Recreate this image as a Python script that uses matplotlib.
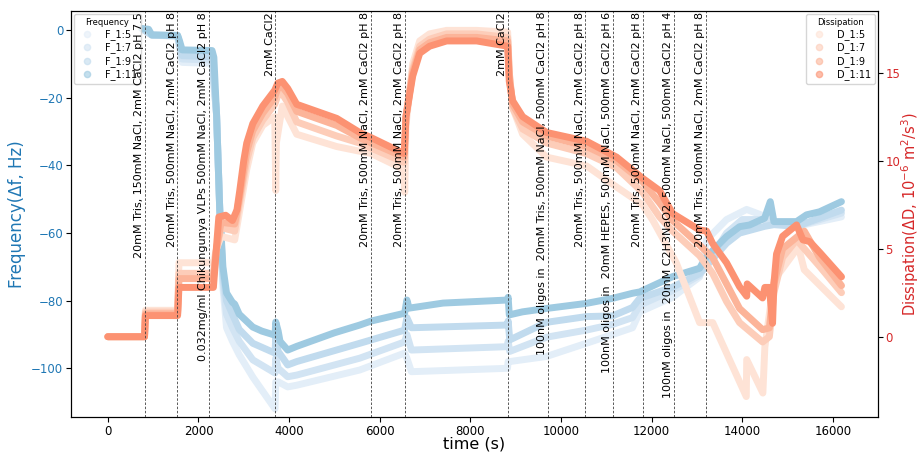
import matplotlib
matplotlib.use("Agg")
import matplotlib.pyplot as plt
from matplotlib.lines import Line2D
import matplotlib.transforms as mtransforms

# Frequency overtones (time s, delta f Hz)
f5_t = [750, 970, 1540, 1640, 2300, 2400, 2470, 2540, 2620, 2750, 2900, 3200, 3690, 3706, 3760, 3970, 4170,
        5560, 6550, 6600, 6700, 8820, 8835, 8870, 9680, 10560, 11140, 11580, 11740, 12460, 13060, 13214,
        13655, 14097, 14494, 14700, 15200, 16190]
f5_v = [0.5, -1.4, -1.8, -9.5, -9.8, -25, -53, -76, -88, -92, -96, -102.6, -112, -104, -104, -105.5, -105,
        -100.5, -95.5, -97, -101, -100, -98, -98, -96.5, -92.6, -90, -88, -83.3, -79, -73, -62,
        -56, -53, -55, -57, -58, -55.2]

f7_t = [750, 970, 1540, 1640, 2300, 2400, 2470, 2540, 2620, 2750, 2900, 3200, 3690, 3706, 3760, 3970, 4170,
        5560, 6550, 6600, 6700, 8820, 8835, 8870, 9680, 10560, 11140, 11580, 11740, 12460, 13060, 13655,
        14000, 14494, 14700, 15200, 16190]
f7_v = [0.5, -1.4, -1.7, -8.5, -8.8, -25, -53, -74, -84, -88, -92, -97.5, -101.4, -97, -100, -102.5, -102,
        -97, -92.2, -90, -94.6, -93.6, -92, -95, -90.8, -88.7, -87, -85, -81.3, -77, -72.5, -60,
        -56, -56, -57, -58, -54.1]

f9_t = [750, 970, 1540, 1640, 2300, 2400, 2470, 2540, 2620, 2750, 2900, 3200, 3690, 3706, 3760, 3970, 4170,
        5560, 6550, 6600, 6700, 8820, 8835, 8870, 9680, 10560, 11140, 11580, 11740, 12460, 13060, 13655,
        13942, 14494, 14700, 15200, 16190]
f9_v = [0.5, -1.4, -1.6, -7.5, -7.8, -25, -53, -72, -80, -84, -88.5, -92.6, -95.5, -91, -95, -99, -98,
        -92.6, -88.7, -85, -88, -87.2, -86, -91.6, -86.4, -84.7, -84.5, -82, -79.3, -76, -72, -63,
        -60, -58, -57.5, -58, -53.2]

f11_t = [750, 900, 970, 1540, 1580, 1640, 2300, 2340, 2400, 2470, 2540, 2620, 2750, 2800, 2900, 3200, 3400,
         3690, 3706, 3760, 3800, 3970, 4170, 5000, 5560, 5817, 6550, 6600, 6650, 7400, 8820, 8835, 8860,
         9150, 9680, 10560, 11140, 11580, 11740, 12460, 13060, 13214, 13655, 13942, 14163, 14494, 14620,
         14700, 15200, 15420, 15707, 16190]
f11_v = [0.5, 0.3, -1.4, -1.5, -3, -5.8, -6.0, -8, -25, -53, -70, -77.7, -80.5, -81, -84, -87.8, -89,
         -90.2, -86.3, -89, -92, -94.6, -93.5, -89.5, -87.2, -86, -83.7, -79.8, -82.2, -80.7, -79.8, -79, -84.2,
         -83.3, -82.3, -80.8, -79.3, -77.8, -77.4, -72.9, -70.4, -67, -61, -58.1, -57.6, -55.6, -50.7,
         -56.6, -56.6, -54.6, -53.7, -50.7]

# Dissipation overtones (time s, delta D 1e-6)
d5_t = [0, 810, 830, 1540, 1570, 2330, 2400, 2500, 2800, 2900, 3066, 3199, 3419, 3684, 3706, 3720, 3850,
        3971, 4169, 5052, 5817, 6540, 6552, 6580, 6728, 6883, 7100, 7478, 8140, 8824, 8860, 8934, 9155,
        9684, 10567, 11229, 11802, 12030, 12545, 13060, 13350, 14090, 14100, 14456, 14500, 14700, 15240,
        15370, 16190]
d5_v = [0, 0, 1.5, 1.5, 4.2, 4.2, 5, 5.7, 5.5, 7, 9.5, 11, 12, 12.5, 8.3, 11, 13.1,
        12.5, 11.5, 10.8, 10.4, 9.5, 8.2, 12, 15.5, 16.8, 17.2, 17.4, 17.4, 17.3, 15, 13, 11.5,
        10.2, 9.7, 8.5, 7.5, 6.6, 4.2, 0.8, 0.8, -3.4, -1.3, -3.2, -0.6, 3.2, 5.1,
        3.8, 1.7]

d7_t = [0, 810, 830, 1540, 1570, 2330, 2400, 2500, 2800, 2900, 3066, 3199, 3419, 3684, 3750, 3850, 3971,
        4169, 5052, 5559, 6540, 6580, 6728, 6883, 7100, 7478, 8140, 8824, 8860, 8934, 9155, 9684, 10567,
        11229, 11802, 12177, 12464, 13060, 13346, 13655, 13942, 14450, 14600, 14700, 14891, 15200, 15707,
        16192]
d7_v = [0, 0, 1.4, 1.4, 3.6, 3.6, 5, 6.2, 6.0, 7.5, 10, 11.3, 12.3, 13.2, 13.7, 13.8, 13.3,
        12.2, 11.4, 11, 9.9, 12.5, 15.2, 16.5, 16.9, 17.2, 17.2, 17, 15, 13, 11.8, 11, 10.4,
        9.6, 8.2, 6.8, 6.0, 4.6, 3.6, 2.0, 0.8, -0.3, 0, 2.5, 4.5, 5.5, 4.0,
        2.5]

d9_t = [0, 810, 830, 1540, 1570, 2330, 2400, 2500, 2800, 2900, 3066, 3199, 3419, 3684, 3750, 3850, 3971,
        4169, 5052, 5559, 6540, 6580, 6728, 6883, 7100, 7478, 8140, 8824, 8860, 8934, 9155, 9684, 10567,
        11229, 11802, 12177, 12464, 13060, 13346, 13655, 13942, 14450, 14600, 14700, 14891, 15370, 15707,
        16192]
d9_v = [0, 0, 1.3, 1.3, 3.3, 3.3, 5, 6.5, 6.4, 7.8, 10.5, 11.7, 12.7, 13.6, 14.1, 14.2, 13.8,
        12.8, 12, 11.3, 10.2, 12.5, 15, 16.3, 16.7, 17, 17, 16.8, 14.8, 13.2, 12.2, 11.4, 10.8,
        10, 8.8, 7.6, 6.6, 5.2, 4.5, 3.0, 1.6, 0.4, 0.5, 3, 5, 6.0, 4.5,
        2.9]

d11_t = [0, 810, 830, 1540, 1570, 2330, 2380, 2450, 2600, 2750, 2850, 2912, 3000, 3066, 3199, 3419, 3684,
         3750, 3850, 3971, 4169, 5052, 5559, 5817, 6540, 6580, 6728, 6883, 7100, 7478, 8140, 8824, 8860,
         8934, 9155, 9684, 10567, 11229, 11802, 12177, 12464, 13060, 13214, 13346, 13655, 13942, 14100,
         14110, 14450, 14500, 14600, 14670, 14700, 14758, 14891, 15200, 15340, 15490, 15707, 16192]
d11_v = [0, 0, 1.2, 1.2, 2.8, 2.8, 4.5, 6.8, 6.9, 6.6, 7.2, 8.3, 10, 11, 12.1, 13.1, 14.0,
         14.4, 14.5, 14.1, 13.2, 12.4, 11.6, 11.3, 10.4, 12.5, 14.8, 16.1, 16.5, 16.8, 16.8, 16.5, 14.5,
         13.4, 12.5, 11.6, 11.1, 10.2, 9.0, 8.3, 7.0, 6.06, 6.0, 5.3, 4.2, 2.84, 2.3,
         3.0, 2.2, 2.8, 2.8, 0.76, 3, 4.7, 5.7, 6.35, 5.5, 5.4, 4.8, 3.4]

f_names = ['F_1:5', 'F_1:7', 'F_1:9', 'F_1:11']
d_names = ['D_1:5', 'D_1:7', 'D_1:9', 'D_1:11']
f_colors = ['#e3eef8', '#d2e4f3', '#c1dbee', '#9ecae1']
d_colors = ['#fee3d6', '#fdcdb9', '#fcb499', '#fc9272']

# buffer changes: time of injection and label
event_t = [815, 1537, 2236, 3700, 5817, 6560, 8835, 9712, 10540, 11150, 11810, 12500, 13208]
event_lbl = [
    '20mM Tris, 150mM NaCl, 2mM CaCl2 pH 7.5',
    '20mM Tris, 500mM NaCl, 2mM CaCl2 pH 8',
    '0.032mg/ml Chikungunya VLPs 500mM NaCl, 2mM CaCl2 pH 8',
    '2mM CaCl2',
    '20mM Tris, 500mM NaCl, 2mM CaCl2 pH 8',
    '20mM Tris, 500mM NaCl, 2mM CaCl2 pH 8',
    '2mM CaCl2',
    '100nM oligos in  20mM Tris, 500mM NaCl, 500mM CaCl2 pH 8',
    '20mM Tris, 500mM NaCl, 2mM CaCl2 pH 8',
    '100nM oligos in  20mM HEPES, 500mM NaCl, 500mM CaCl2 pH 6',
    '20mM Tris, 500mM NaCl, 2mM CaCl2 pH 8',
    '100nM oligos in  20mM C2H3NaO2, 500mM NaCl, 500mM CaCl2 pH 4',
    '20mM Tris, 500mM NaCl, 2mM CaCl2 pH 8',
]

fig = plt.figure(figsize=(9.2, 4.53), dpi=100)
ax1 = fig.add_axes([0.077, 0.0795, 0.877, 0.8962])
ax2 = ax1.twinx()

f_series = [(f5_t, f5_v), (f7_t, f7_v), (f9_t, f9_v), (f11_t, f11_v)]
d_series = [(d5_t, d5_v), (d7_t, d7_v), (d9_t, d9_v), (d11_t, d11_v)]

for (t, v), c in zip(f_series, f_colors):
    ax1.plot(t, v, color=c, lw=5, solid_capstyle='round', solid_joinstyle='round')
for (t, v), c in zip(d_series, d_colors):
    ax2.plot(t, v, color=c, lw=5, solid_capstyle='round', solid_joinstyle='round')

ax1.set_xlim(-816, 16990)
ax1.set_ylim(-114.4, 5.7)
ax2.set_ylim(-4.56, 18.5)
ax1.set_xticks(range(0, 16001, 2000))
ax1.set_yticks([0, -20, -40, -60, -80, -100])
ax2.set_yticks([0, 5, 10, 15])

ax1.set_xlabel('time (s)', fontsize=11.5, labelpad=-1)
ax1.set_ylabel('Frequency(\u0394f, Hz)', fontsize=12, color='tab:blue', labelpad=4)
ax2.set_ylabel('Dissipation(\u0394D, 10$^{-6}$ m$^2$/s$^3$)', fontsize=10.5, color='tab:red')
ax2.yaxis.set_label_coords(1.027, 0.5)
ax1.tick_params(axis='x', labelsize=8.5, pad=2)
ax1.tick_params(axis='y', labelsize=8.5, labelcolor='tab:blue', pad=2)
ax2.tick_params(axis='y', labelsize=8.5, labelcolor='tab:red', pad=2)

f_handles = [Line2D([], [], ls='none', marker='o', ms=4.5, color=c, alpha=0.6) for c in f_colors]
d_handles = [Line2D([], [], ls='none', marker='o', ms=4.5, color=c, alpha=0.6) for c in d_colors]
ax1.legend(f_handles, f_names, title='Frequency', loc='upper left', fontsize=7, title_fontsize=6,
           labelspacing=0.25, borderaxespad=0.3)
ax2.legend(d_handles, d_names, title='Dissipation', loc='upper right', fontsize=7, title_fontsize=6,
           labelspacing=0.25, borderaxespad=0.3)

trans = mtransforms.blended_transform_factory(ax2.transData, ax2.transAxes)
for t, lbl in zip(event_t, event_lbl):
    ax2.axvline(t, color='0.25', ls=(0, (3, 2)), lw=0.6)
    ax2.text(t - 20, 0.998, lbl, transform=trans, rotation=90, ha='right', va='top', fontsize=8)

fig.savefig('out.png', dpi=100)
